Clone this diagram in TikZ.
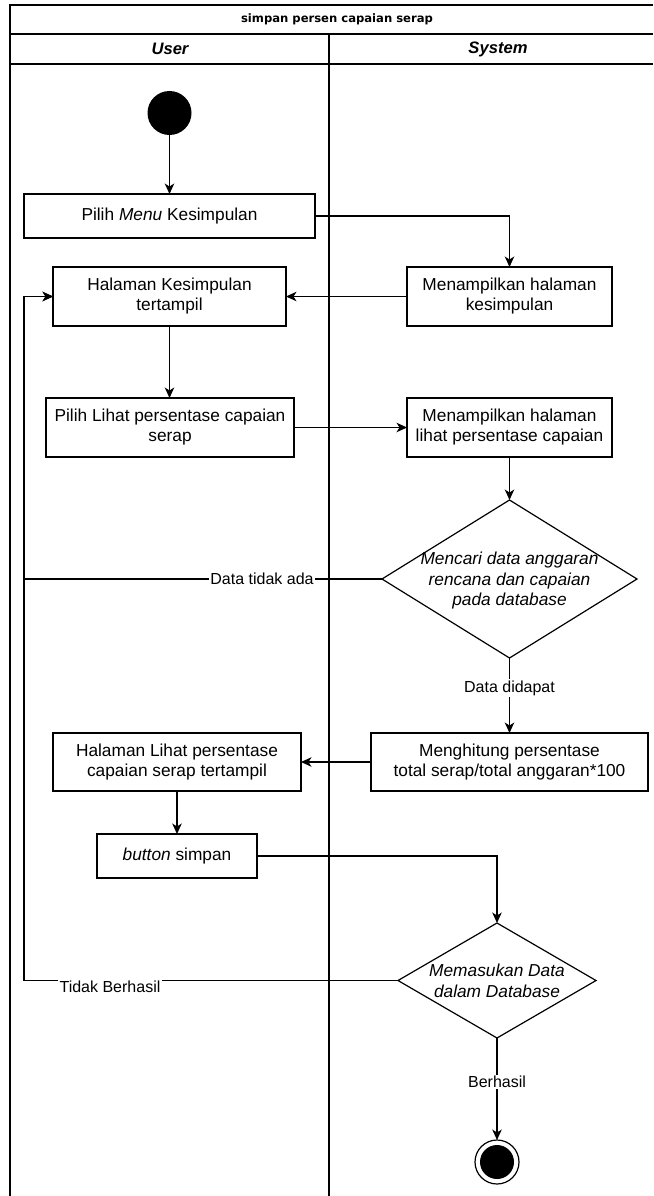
\documentclass[tikz,border=0pt]{standalone}
\usepackage{fontspec}
\setmainfont{Liberation Sans}
\newfontfamily\titlefont{DejaVu Sans}
\usetikzlibrary{arrows.meta,shapes.geometric}
\begin{document}
\begin{tikzpicture}[x=1pt,y=-1pt,
  every node/.style={inner sep=0pt, outer sep=0pt},
  lane/.style={line width=1.3pt, draw=black},
  box/.style={draw, line width=1.2pt, rectangle, align=center,
              font=\fontsize{17.3}{20}\selectfont},
  decision/.style={draw, line width=1.2pt, diamond},
  dtext/.style={align=center, font=\fontsize{17.3}{20.5}\selectfont\itshape},
  flow/.style={line width=1.25pt, -{Stealth[length=10.5pt,width=9.5pt,inset=3pt]}},
  lbl/.style={fill=white, font=\fontsize{16}{18}\selectfont, inner sep=1.5pt},
  head/.style={font=\fontsize{16.6}{18}\selectfont\bfseries\itshape},
]
\useasboundingbox (0,0) rectangle (653,1196);
\fill[white] (0,0) rectangle (653,1196);

% swimlane frame
\draw[lane] (653,5) -- (10,5) -- (10,1196);
\draw[lane] (10,34) -- (653,34);
\draw[lane] (10,64) -- (653,64);
\draw[lane] (329,34) -- (329,1196);
\node (title) at (337,19.5) {\titlefont\bfseries\fontsize{11.6}{14}\selectfont simpan persen capaian serap};
\node[head] (userlane) at (170,49) {User};
\node[head] (syslane) at (498,49) {System};

% activities
\node[circle, fill=black, minimum size=44pt] (start) at (169.5,113) {};
\node[box, minimum width=291pt, minimum height=44pt] (menu) at (169.5,216) {Pilih \textit{Menu} Kesimpulan};
\node[box, minimum width=233pt, minimum height=59pt] (hk) at (169.5,296.5) {Halaman Kesimpulan\\tertampil};
\node[box, minimum width=205pt, minimum height=59pt] (mk) at (509.5,296.5) {Menampilkan halaman\\kesimpulan};
\node[box, minimum width=248pt, minimum height=59pt] (pl) at (170,427.5) {Pilih Lihat persentase capaian\\serap};
\node[box, minimum width=205pt, minimum height=59pt] (ml) at (509.5,427.5) {Menampilkan halaman\\lihat persentase capaian};
\node[decision, minimum width=255pt, minimum height=158pt] (d1) at (509.5,579) {};
\node[dtext] (d1t) at (509.5,581) {Mencari data anggaran\\rencana dan capaian\\pada database};
\node[box, minimum width=277pt, minimum height=58pt] (mh) at (509.5,762) {Menghitung persentase\\total serap/total anggaran*100};
\node[box, minimum width=248pt, minimum height=58pt] (hl) at (177,762) {Halaman Lihat persentase\\capaian serap tertampil};
\node[box, minimum width=160pt, minimum height=44pt] (bs) at (177,856) {\textit{button} simpan};
\node[decision, minimum width=198pt, minimum height=115pt] (d2) at (497,980.5) {};
\node[dtext] (d2t) at (497,981) {Memasukan Data\\dalam Database};
\node[circle, draw, line width=1.2pt, minimum size=44pt] (end) at (497,1162) {};
\node[circle, fill=black, minimum size=34pt] (endcore) at (end) {};

% loop-back points on the user lane edge
\coordinate (loopA) at (24,579);
\coordinate (loopB) at (24,980.5);

% control flow
\draw[flow] (start) -- (menu);
\draw[flow] (menu.east) -| (mk.north);
\draw[flow] (mk.west) -- (hk.east);
\draw[flow] (hk.south) -- (hk.south |- pl.north);
\draw[flow] (pl.east) -- (ml.west);
\draw[flow] (ml.south) -- (d1.north);
\draw[flow] (d1.west) -- (loopA) |- (hk.west);
\node[lbl] (notfound) at (262,579) {Data tidak ada};
\draw[flow] (d1.south) -- (mh.north);
\node[lbl] (found) at (509.5,688) {Data didapat};
\draw[flow] (mh.west) -- (hl.east);
\draw[flow] (hl.south) -- (bs.north);
\draw[flow] (bs.east) -| (d2.north);
\draw[flow] (d2.west) -- (loopB) |- (hk.west);
\node[lbl, inner ysep=3pt] (fail) at (110,987) {Tidak Berhasil};
\draw[flow] (d2.south) -- (end.north);
\node[lbl] (ok) at (497,1082) {Berhasil};
\end{tikzpicture}
\end{document}
